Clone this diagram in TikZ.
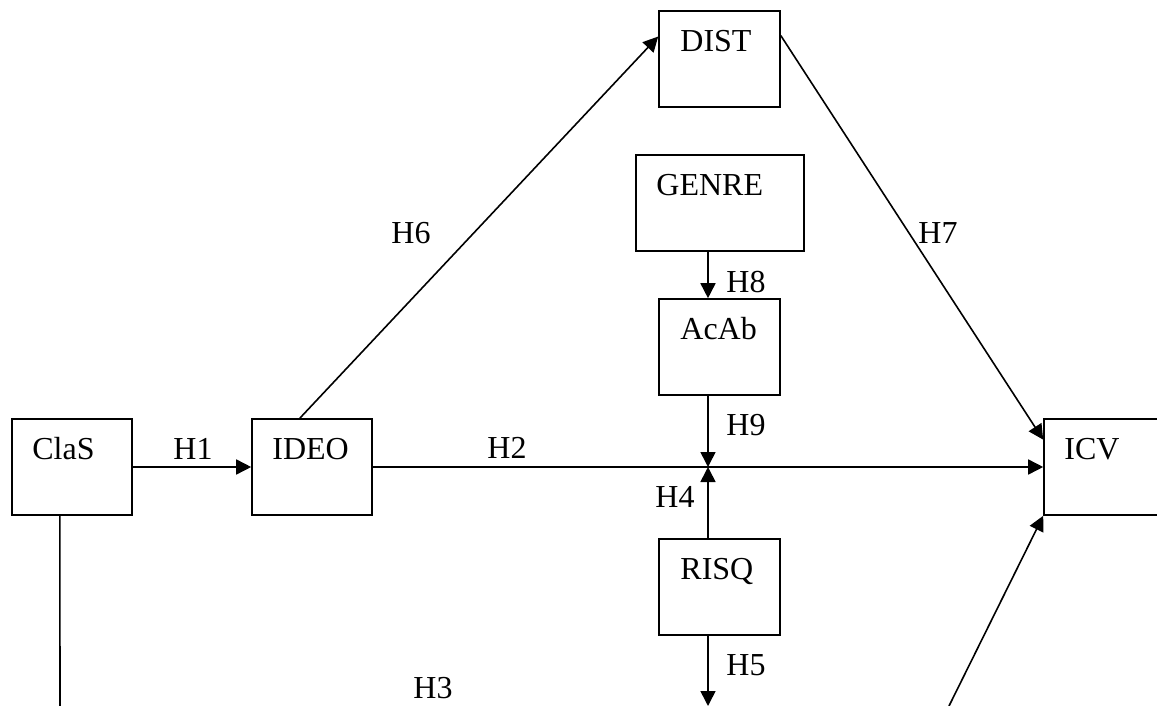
\documentclass[tikz,border=0pt]{standalone}
\usepackage{fontspec}
\setmainfont{Liberation Serif}
\usetikzlibrary{arrows.meta,calc}
\begin{document}
\begin{tikzpicture}[x=1pt,y=-1pt,
  box/.style={draw,line width=1.6pt,minimum height=96pt,minimum width=120pt,inner sep=0pt},
  txt/.style={font=\fontsize{32}{38}\selectfont,inner sep=0pt},
  conn/.style={line width=1.6pt},
  arr/.style={line width=1.6pt,-{Triangle[length=15pt,width=15pt]}}]
\useasboundingbox (0,0) rectangle (1157,706);
\clip (0,0) rectangle (1157,706);
% boxes
\node[box] (clas) at (72,467) {};
\node[box] (ideo) at (312,467) {};
\node[box,minimum width=121pt] (dist) at (719.5,59) {};
\node[box,minimum width=168pt] (genre) at (720,203) {};
\node[box,minimum width=121pt] (acab) at (719.5,347) {};
\node[box,minimum width=121pt] (risq) at (719.5,587) {};
\node[box,minimum width=126pt] (icv) at (1107,467) {};
% box texts
\node[txt,anchor=base west] (tclas) at ($(clas.north west)+(21,41)$) {ClaS};
\node[txt,anchor=base west] (tideo) at ($(ideo.north west)+(21,41)$) {IDEO};
\node[txt,anchor=base west] (tdist) at ($(dist.north west)+(22,41)$) {DIST};
\node[txt,anchor=base west] (tgenre) at ($(genre.north west)+(21,41)$) {GENRE};
\node[txt,anchor=base west] (tacab) at ($(acab.north west)+(22,41)$) {AcAb};
\node[txt,anchor=base west] (trisq) at ($(risq.north west)+(22,41)$) {RISQ};
\node[txt,anchor=base west] (ticv) at ($(icv.north west)+(21,41)$) {ICV};
% coordinates
\coordinate (j) at (708,467);
\coordinate (h5end) at (708,706);
\coordinate (clasend) at (60,706);
\coordinate (h3start) at (949,706);
% connectors
\draw[arr] (clas.east) -- (ideo.west);
\draw[arr] (ideo.east) -- (icv.west);
\draw[arr] ($(ideo.north west)!0.4!(ideo.north east)$) -- ($(dist.north west)!0.27!(dist.south west)$);
\draw[arr] ($(dist.north east)!0.26!(dist.south east)$) -- ($(icv.north west)!0.22!(icv.south west)$);
\draw[arr] (genre.south -| j) -- (acab.north -| j);
\draw[arr] (acab.south -| j) -- (j);
\draw[arr] (risq.north -| j) -- (j);
\draw[arr] (risq.south -| j) -- (h5end);
\draw[conn] ($(clas.south west)!0.4!(clas.south east)$) -- (clasend);
\draw[arr] (h3start) -- (icv.south west);
% labels
\node[txt,anchor=base] (h1) at (193,459) {H1};
\node[txt,anchor=base] (h2) at (507,458) {H2};
\node[txt,anchor=base] (h3) at (433,698) {H3};
\node[txt,anchor=base] (h4) at (675,507) {H4};
\node[txt,anchor=base] (h5) at (746,675) {H5};
\node[txt,anchor=base] (h6) at (411,243) {H6};
\node[txt,anchor=base] (h7) at (938,243) {H7};
\node[txt,anchor=base] (h8) at (746,292) {H8};
\node[txt,anchor=base] (h9) at (746,435) {H9};
\end{tikzpicture}
\end{document}
